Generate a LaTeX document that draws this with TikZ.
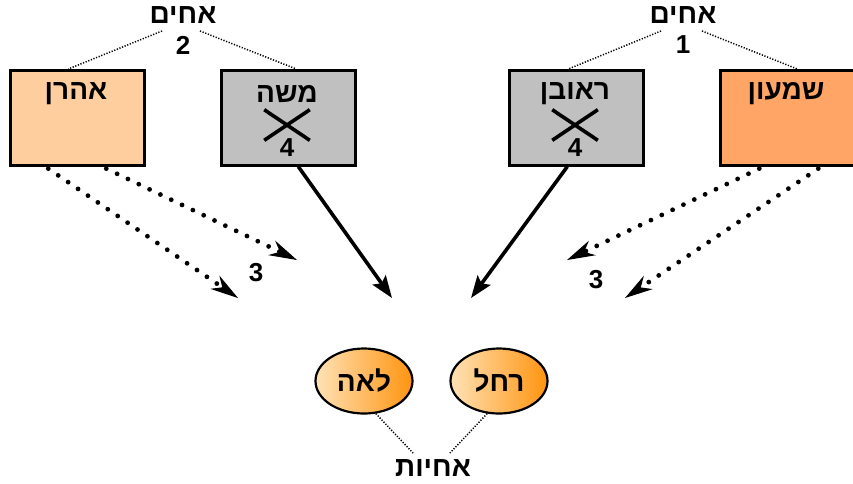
\documentclass[tikz,border=0pt]{standalone}
\usepackage{fontspec}
\newfontfamily\hebfont[Script=Hebrew, BoldFont={Liberation Sans Bold}]{Liberation Sans}
\TeXXeTstate=1
\usetikzlibrary{arrows.meta,shapes.misc,shapes.geometric}
\definecolor{paleorange}{HTML}{FFCE9E}
\definecolor{deeporange}{HTML}{FFA666}
\definecolor{boxgrey}{HTML}{C0C0C0}
\definecolor{shadelight}{HTML}{FFE2B6}
\definecolor{shadedark}{HTML}{FF940F}
\newcommand{\heb}[1]{{\hebfont\bfseries\fontsize{28}{32}\selectfont\beginR #1\endR}}
\newcommand{\num}[1]{{\hebfont\bfseries\fontsize{26}{30}\selectfont #1}}

\begin{document}
\begin{tikzpicture}[x=1pt,y=-1pt,
	namebox/.style={draw, line width=2.6pt, minimum width=134pt, minimum height=95pt, anchor=north west},
	sister/.style={ellipse, draw, line width=2.2pt, minimum width=97pt, minimum height=65pt, left color=shadelight, right color=shadedark},
	tie/.style={line width=1.5pt, dash pattern=on 1.2pt off 1.6pt},
	dotarrow/.style={line width=4.8pt, dash pattern=on 0pt off 12pt, line cap=round, -{Stealth[length=28pt, width=16pt, inset=9pt, line width=1pt]}},
	solidarrow/.style={line width=3.6pt, -{Stealth[length=22pt, width=16pt, inset=4pt]}},
	crossmark/.style={cross out, draw, line width=3.6pt, minimum width=42pt, minimum height=27pt, inner sep=0pt}]
	\useasboundingbox (0,0) rectangle (853,483);

	% boxes of the brothers
	\node[namebox, fill=paleorange] (aharon) at (9,69) {};
	\node[namebox, fill=boxgrey] (moshe) at (220,69) {};
	\node[namebox, fill=boxgrey] (reuven) at (508,69) {};
	\node[namebox, fill=deeporange] (shimon) at (719,69) {};

	\node (aharonname) at (76,94) {\heb{אהרן}};
	\node (moshename) at (287,94) {\heb{משה}};
	\node (reuvenname) at (575,94) {\heb{ראובן}};
	\node (shimonname) at (786,94) {\heb{שמעון}};

	\node[crossmark] (mosheX) at (287,125) {};
	\node (moshenum) at (287,148) {\num{4}};
	\node[crossmark] (reuvenX) at (575,125) {};
	\node (reuvennum) at (575,148) {\num{4}};

	% brothers labels
	\node (brothersB) at (183,15) {\heb{אחים}};
	\node (numB) at (183,45) {\num{2}};
	\node (brothersA) at (683,15) {\heb{אחים}};
	\node (numA) at (683,45) {\num{1}};

	\draw[tie] ([xshift=-21pt,yshift=-16pt]brothersB.center) -- ([xshift=-9pt]aharon.north);
	\draw[tie] ([xshift=17pt,yshift=-16pt]brothersB.center) -- ([xshift=8pt]moshe.north);
	\draw[tie] ([xshift=-22pt,yshift=-16pt]brothersA.center) -- ([xshift=-8pt]reuven.north);
	\draw[tie] ([xshift=19pt,yshift=-16pt]brothersA.center) -- ([xshift=10pt]shimon.north);

	% sisters
	\node[sister] (lea) at (364,381) {\heb{לאה}};
	\node[sister] (rachel) at (499,381) {\heb{רחל}};
	\node (sisters) at (433,468) {\heb{אחיות}};
	\draw[tie] (lea.-70) -- ([xshift=-20pt,yshift=15pt]sisters.center);
	\draw[tie] (rachel.-110) -- ([xshift=17pt,yshift=15pt]sisters.center);

	% arrows
	\coordinate (aharonTipA) at (238,298);
	\coordinate (aharonTipB) at (297,260);
	\coordinate (shimonTipA) at (567,260);
	\coordinate (shimonTipB) at (625,298);
	\coordinate (leaTip) at (392,298);
	\coordinate (rachelTip) at (471,298);

	\draw[dotarrow] ([xshift=-29pt,yshift=-2pt]aharon.south) -- (aharonTipA);
	\draw[dotarrow] ([xshift=29pt,yshift=-2pt]aharon.south) -- (aharonTipB);
	\draw[dotarrow] ([xshift=-28pt,yshift=-2pt]shimon.south) -- (shimonTipA);
	\draw[dotarrow] ([xshift=31pt,yshift=-2pt]shimon.south) -- (shimonTipB);
	\node (numC) at (256,273) {\num{3}};
	\node (numD) at (596,280) {\num{3}};

	\draw[solidarrow] ([xshift=10pt]moshe.south) -- (leaTip);
	\draw[solidarrow] ([xshift=-9pt]reuven.south) -- (rachelTip);
\end{tikzpicture}
\end{document}
